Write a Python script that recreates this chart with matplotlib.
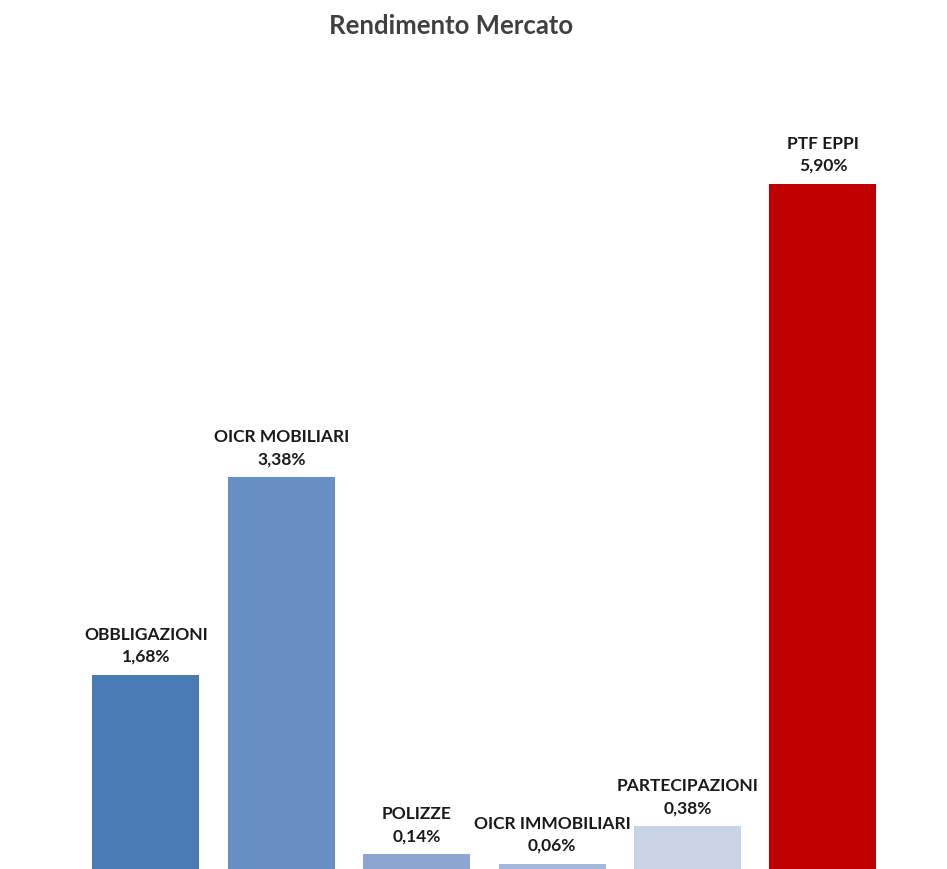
import matplotlib
matplotlib.use('Agg')
import matplotlib.pyplot as plt

categories = ['OBBLIGAZIONI', 'OICR MOBILIARI', 'POLIZZE', 'OICR IMMOBILIARI',
              'PARTECIPAZIONI', 'PTF EPPI']
values = [1.68, 3.38, 0.14, 0.06, 0.38, 5.90]
colors = ['#4a7ab4', '#678fc3', '#8aa6d1', '#a3b8dc', '#c9d3e7', '#c00000']


def plot_rendimento():
    plt.rcParams['font.family'] = ['Lato', 'DejaVu Sans']
    fig = plt.figure(figsize=(9.47, 8.70), dpi=100)
    ax = fig.add_axes([0, 0, 1, 1])
    x = list(range(len(values)))
    ax.bar(x, values, width=0.79, color=colors)

    for xi, cat, val in zip(x, categories, values):
        label = '%s\n%s%%' % (cat, ('%.2f' % val).replace('.', ','))
        ax.annotate(label, (xi, val), xytext=(0, 8), textcoords='offset points',
                    ha='center', va='bottom', fontsize=12.5, fontweight='bold',
                    color='#1a1a1a', linespacing=1.45)

    ax.set_xlim(-1.078, 5.916)
    ax.set_ylim(0.013, 7.49)
    ax.axis('off')

    fig.text(451 / 947, 1 - 26 / 870, 'Rendimento Mercato', ha='center', va='center',
             fontsize=18.5, fontweight='bold', color='#404040')
    fig.savefig('out.png', dpi=100, facecolor='white')


if __name__ == "__main__":
    plot_rendimento()
